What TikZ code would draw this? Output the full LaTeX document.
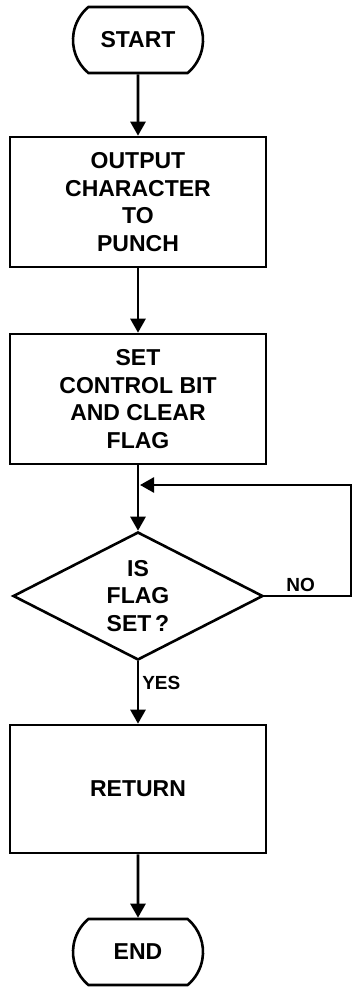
\documentclass[tikz,border=0pt]{standalone}
\usepackage{fontspec}
\setmainfont{Liberation Sans}
\usepackage{tikz}
\usetikzlibrary{shapes.geometric,shapes.misc,arrows.meta,positioning}

\begin{document}
\begin{tikzpicture}[x=1pt,y=-1pt,line width=2.6pt,font=\bfseries\fontsize{23}{27.6}\selectfont,
  term/.style={draw,rounded rectangle,rounded rectangle arc length=100,minimum width=130pt,minimum height=66pt,inner sep=0pt},
  procbox/.style={draw,rectangle,minimum width=256pt,minimum height=130pt,align=center,inner sep=0pt},
  decide/.style={draw,diamond,aspect=1.95,minimum width=250pt,minimum height=128pt,align=center,inner sep=0pt},
  flow/.style={-{Triangle[length=14pt,width=15pt]}},
  tag/.style={font=\bfseries\fontsize{19}{22}\selectfont,inner sep=3pt}]
  \useasboundingbox (0,0) rectangle (356,987);
  \node[term] (start) at (138,40) {START};
  \node[procbox] (output) at (138,202) {OUTPUT\\CHARACTER\\TO\\PUNCH};
  \node[procbox] (setbit) at (138,399) {SET\\CONTROL BIT\\AND CLEAR\\FLAG};
  \node[decide] (flagq) at (138,596) {IS\\FLAG\\SET\,?};
  \node[procbox,minimum height=128pt] (return) at (138,789) {RETURN};
  \node[term] (end) at (138,952) {END};
  \coordinate (loopin) at (140,485);
  \coordinate (loopcorner) at (351,596);
  \draw[flow] (start) -- (output);
  \draw[flow] (output) -- (setbit);
  \draw[flow] (setbit) -- (flagq);
  \draw[flow] (flagq.east) -- node[tag,above,pos=0.42]{NO} (loopcorner) |- (loopin);
  \draw[flow] (flagq) -- node[tag,right,pos=0.35]{YES} (return);
  \draw[flow] (return) -- (end);
\end{tikzpicture}
\end{document}
